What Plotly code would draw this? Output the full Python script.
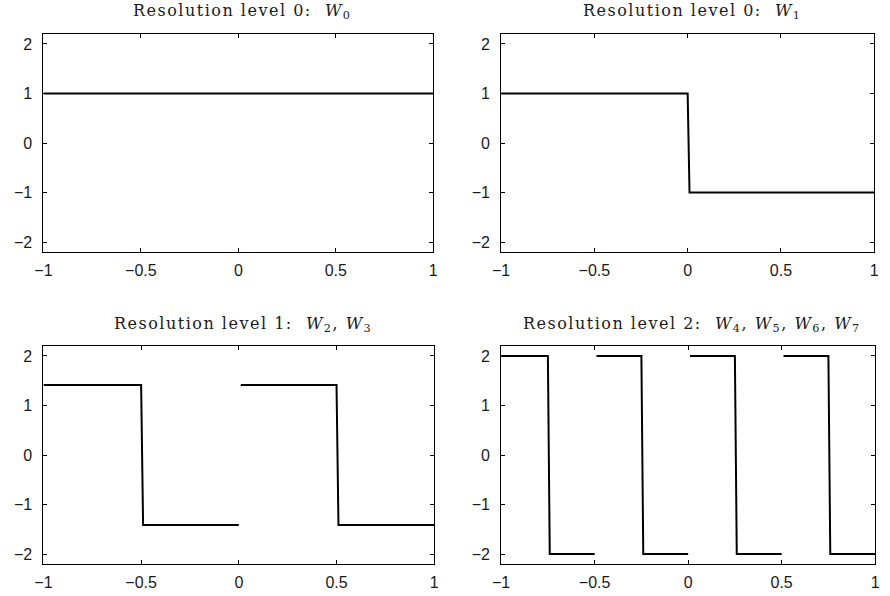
import plotly.graph_objects as go

# Haar basis functions sampled on [-1, 1]; None breaks separate supports
w0_x = [-1, 1]
w0_y = [1, 1]

w1_x = [-1, 0, 0.01, 1]
w1_y = [1, 1, -1, -1]

w23_x = [-1, -0.5, -0.49, 0, None, 0.01, 0.5, 0.51, 1]
w23_y = [1.414, 1.414, -1.414, -1.414, None, 1.414, 1.414, -1.414, -1.414]

w47_x = [-1, -0.75, -0.74, -0.5, None,
         -0.49, -0.25, -0.24, 0, None,
         0.01, 0.25, 0.26, 0.5, None,
         0.51, 0.75, 0.76, 1]
w47_y = [2, 2, -2, -2, None,
         2, 2, -2, -2, None,
         2, 2, -2, -2, None,
         2, 2, -2, -2]

titles = [
    "Resolution level 0:  <i>W</i><sub>0</sub>",
    "Resolution level 0:  <i>W</i><sub>1</sub>",
    "Resolution level 1:  <i>W</i><sub>2</sub>, <i>W</i><sub>3</sub>",
    "Resolution level 2:  <i>W</i><sub>4</sub>, <i>W</i><sub>5</sub>, <i>W</i><sub>6</sub>, <i>W</i><sub>7</sub>",
]

x_ticks = [-1, -0.5, 0, 0.5, 1]
x_ticktext = ["\u22121", "\u22120.5", "0", "0.5", "1"]
y_ticks = [-2, -1, 0, 1, 2]
y_ticktext = ["\u22122", "\u22121", "0", "1", "2"]

W, H = 890, 596
# panel boxes in pixels: (left, right, top, bottom)
boxes = [
    (35, 431, 34, 252),
    (500, 879, 34, 252),
    (35, 432, 346, 564),
    (500, 880, 346, 564),
]
series = [(w0_x, w0_y), (w1_x, w1_y), (w23_x, w23_y), (w47_x, w47_y)]

fig = go.Figure()
tick_font = dict(family="Liberation Sans", size=16, color="#1a1a1a")

for i, ((xs, ys), (l, r, t, b), title) in enumerate(zip(series, boxes, titles)):
    n = "" if i == 0 else str(i + 1)
    fig.add_trace(go.Scatter(
        x=xs, y=ys, mode="lines",
        line=dict(color="black", width=2),
        xaxis="x" + n, yaxis="y" + n, showlegend=False,
        connectgaps=False, hoverinfo="skip",
    ))
    axis_common = dict(
        showgrid=False, zeroline=False, showline=True, linecolor="black",
        linewidth=1, mirror="allticks", ticks="inside", ticklen=4,
        tickcolor="black", tickwidth=1, tickfont=tick_font,
    )
    fig.layout["xaxis" + n] = dict(
        domain=[l / W, r / W], range=[-1, 1], anchor="y" + n,
        tickvals=x_ticks, ticktext=x_ticktext, ticklabelstandoff=4,
        **axis_common,
    )
    fig.layout["yaxis" + n] = dict(
        domain=[1 - b / H, 1 - t / H], range=[-2.2, 2.2], anchor="x" + n,
        tickvals=y_ticks, ticktext=y_ticktext, ticklabelstandoff=7,
        **axis_common,
    )
    fig.add_annotation(
        text='<span style="letter-spacing:1.5px">' + title + "</span>",
        x=(l + r) / 2 / W + 4 / W, y=1 - (t - 22) / H,
        xref="paper", yref="paper", xanchor="center", yanchor="middle",
        showarrow=False,
        font=dict(family="DejaVu Serif", size=16, color="#1a1a1a"),
    )

fig.update_layout(
    width=W, height=H,
    margin=dict(l=0, r=0, t=0, b=0),
    plot_bgcolor="white", paper_bgcolor="white",
)

fig.write_html("out.html")
